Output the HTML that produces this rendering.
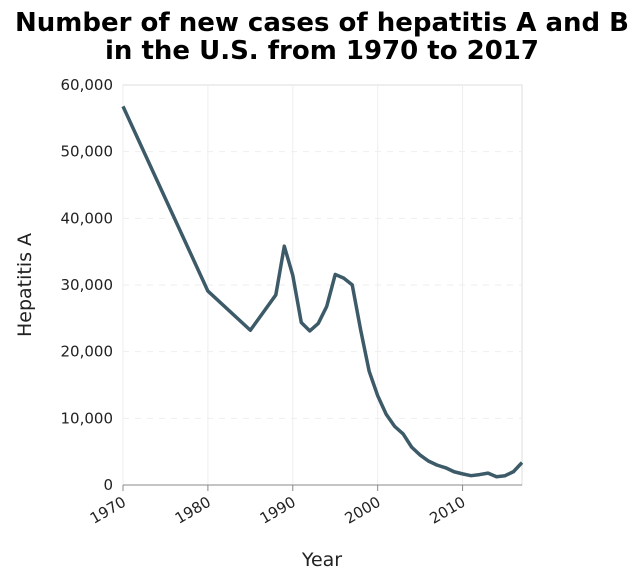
<!DOCTYPE html>
<html><head><meta charset="utf-8"><style>
body{margin:0;background:#fff;font-family:"DejaVu Sans",sans-serif}
</style></head><body>
<svg id="c" width="644" height="580" font-family="DejaVu Sans, sans-serif">
<text x="322" y="31" text-anchor="middle" font-size="26" font-weight="bold" fill="#000">Number of new cases of hepatitis A and B</text>
<text x="322" y="59" text-anchor="middle" font-size="26" font-weight="bold" fill="#000">in the U.S. from 1970 to 2017</text>
<g id="grid"></g><g id="axes"></g><g id="series"></g>
<text x="322" y="566" text-anchor="middle" font-size="19" fill="#222">Year</text>
<text transform="translate(31,285) rotate(-90)" text-anchor="middle" font-size="19" fill="#222">Hepatitis A</text>
</svg>
<script>
const years=[1970,1980,1985,1988,1989,1990,1991,1992,1993,1994,1995,1996,1997,1998,1999,2000,2001,2002,2003,2004,2005,2006,2007,2008,2009,2010,2011,2012,2013,2014,2015,2016,2017];
const cases=[56797,29087,23210,28507,35821,31441,24378,23112,24238,26796,31582,31032,30021,23229,17047,13397,10609,8795,7653,5683,4488,3579,2979,2585,1987,1670,1398,1562,1781,1239,1390,2007,3366];
const xTicks=[1970,1980,1990,2000,2010];
const yTicks=[0,10000,20000,30000,40000,50000,60000];
const L=123,R=522,T=85,B=485;
const x=v=>L+(v-1970)/(2017-1970)*(R-L);
const y=v=>B-v/60000*(B-T);
const NS='http://www.w3.org/2000/svg';
function mk(p,t,a){const e=document.createElementNS(NS,t);for(const k in a)e.setAttribute(k,a[k]);document.getElementById(p).appendChild(e);return e;}
const g=mk('grid','rect',{x:L,y:T,width:R-L,height:B-T,fill:'none',stroke:'#ddd'});


xTicks.forEach(v=>{
 const l=mk('grid','line',{x1:x(v),x2:x(v),y1:T,y2:B,stroke:'#eee'});
 
 
 const t=mk('axes','line',{x1:x(v),x2:x(v),y1:B,y2:B+6,stroke:'#888'});
 
 
 const s=mk('axes','text',{x:x(v)+4,y:B+20,'text-anchor':'end','font-size':15,fill:'#222',transform:`rotate(-30 ${x(v)+4} ${B+20})`});
 s.textContent=v;
 
 
});
yTicks.forEach(v=>{
 if(v>0&&v<60000){const l=mk('grid','line',{x1:L,x2:R,y1:y(v),y2:y(v),stroke:'#eee','stroke-dasharray':'6,6'});
 
 }
 const s=mk('axes','text',{x:L-10,y:y(v)+5,'text-anchor':'end','font-size':15,fill:'#222'});
 s.textContent=v.toLocaleString('en-US');
 
 
});
const ax=mk('axes','line',{x1:L,x2:R,y1:B,y2:B,stroke:'#888'});


const p=mk('series','path',{d:years.map((v,i)=>(i?'L':'M')+x(v)+','+y(cases[i])).join(''),fill:'none',stroke:'#3d5a68','stroke-width':3.5,'stroke-linejoin':'round'});


</script>
</body></html>
